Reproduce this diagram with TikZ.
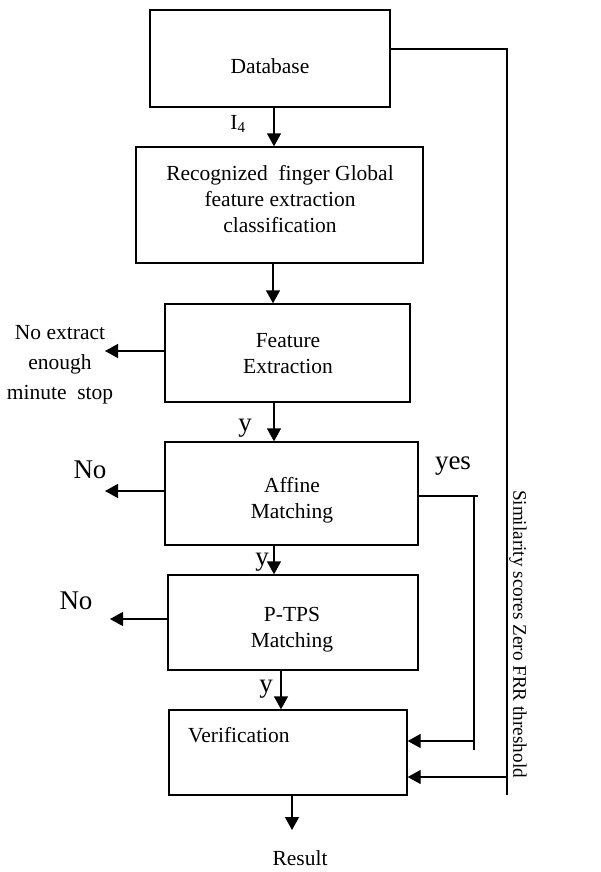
\documentclass[tikz,border=0pt]{standalone}
\usepackage{fontspec}
\setmainfont{Liberation Serif}
\usetikzlibrary{arrows.meta}
\begin{document}
\begin{tikzpicture}[x=1pt,y=-1pt,
  box/.style={draw,line width=1.4pt,inner sep=0pt},
  txt/.style={inner sep=0pt,align=center,font=\fontsize{21.5}{26}\selectfont},
  big/.style={inner sep=0pt,font=\fontsize{27}{30}\selectfont},
  arr/.style={line width=1.4pt,-{Triangle[length=13pt,width=14pt]}},
  ln/.style={line width=1.4pt}]
\useasboundingbox (0,0) rectangle (600,872);
\fill[white] (0,0) rectangle (600,872);
% boxes
\node[box,minimum width=240pt,minimum height=97pt] (db) at (270,58.5) {};
\node[box,minimum width=287pt,minimum height=116pt] (rec) at (279.5,205) {};
\node[box,minimum width=245pt,minimum height=98pt] (fe) at (287.5,353) {};
\node[box,minimum width=253pt,minimum height=103pt] (af) at (291.5,493.5) {};
\node[box,minimum width=250pt,minimum height=95pt] (tps) at (293,622.5) {};
\node[box,minimum width=238pt,minimum height=85pt] (ver) at (288,752.5) {};
% box texts
\node[txt] (dbt) at (270,66) {Database};
\node[txt] (rect) at (280,199) {Recognized\ \ finger Global\\feature extraction\\classification};
\node[txt] (fet) at (288,354) {Feature\\Extraction};
\node[txt] (aft) at (292,500) {Affine\\Matching};
\node[txt] (tpst) at (292,630) {P-TPS\\Matching};
\node[txt,anchor=west] (vert) at (188,735) {Verification};
% side texts
\node[txt,font=\fontsize{21.5}{30}\selectfont] (noext) at (60,365) {No extract\\enough\\minute\ \ stop};
\node[big] (no1) at (90,470) {No};
\node[big] (no2) at (76,601) {No};
\node[big] (yes) at (453,466) {yes};
\node[big] (y1) at (245,428) {y};
\node[big] (y2) at (262,562) {y};
\node[big] (y3) at (266,689) {y};
\node[txt] (i4) at (238,124) {I\textsubscript{4}};
\node[txt] (res) at (300,858) {Result};
\node[inner sep=0pt,rotate=-90,font=\fontsize{19.2}{22}\selectfont] (sim) at (518,634) {Similarity scores Zero FRR threshold};
% vertical arrows
\draw[arr] (db.south -| 274,0) -- (rec.north -| 274,0);
\draw[arr] (rec.south -| 273,0) -- (fe.north -| 273,0);
\draw[arr] (fe.south -| 274,0) -- (af.north -| 274,0);
\draw[arr] (af.south -| 274,0) -- (tps.north -| 274,0);
\draw[arr] (tps.south -| 281,0) -- (ver.north -| 281,0);
\coordinate (rtip) at (292,830);
\draw[arr] (ver.south -| rtip) -- (rtip);
% left arrows
\coordinate (l1) at (105,351);
\coordinate (l2) at (105,491);
\coordinate (l3) at (110,619);
\draw[arr] (fe.west |- l1) -- (l1);
\draw[arr] (af.west |- l2) -- (l2);
\draw[arr] (tps.west |- l3) -- (l3);
% yes path
\coordinate (ya) at (478,496);
\coordinate (yb) at (474,496);
\coordinate (yc) at (474,750);
\coordinate (yd) at (474,741);
\draw[ln] (af.east |- ya) -- (ya);
\draw[ln] (yb) -- (yc);
\draw[arr] (yd) -- (ver.east |- yd);
% database feedback path
\coordinate (da) at (507,49);
\coordinate (dc) at (507,795);
\coordinate (dd) at (507,777);
\draw[ln] (db.east |- da) -- (da) -- (dc);
\draw[arr] (dd) -- (ver.east |- dd);
\end{tikzpicture}
\end{document}
